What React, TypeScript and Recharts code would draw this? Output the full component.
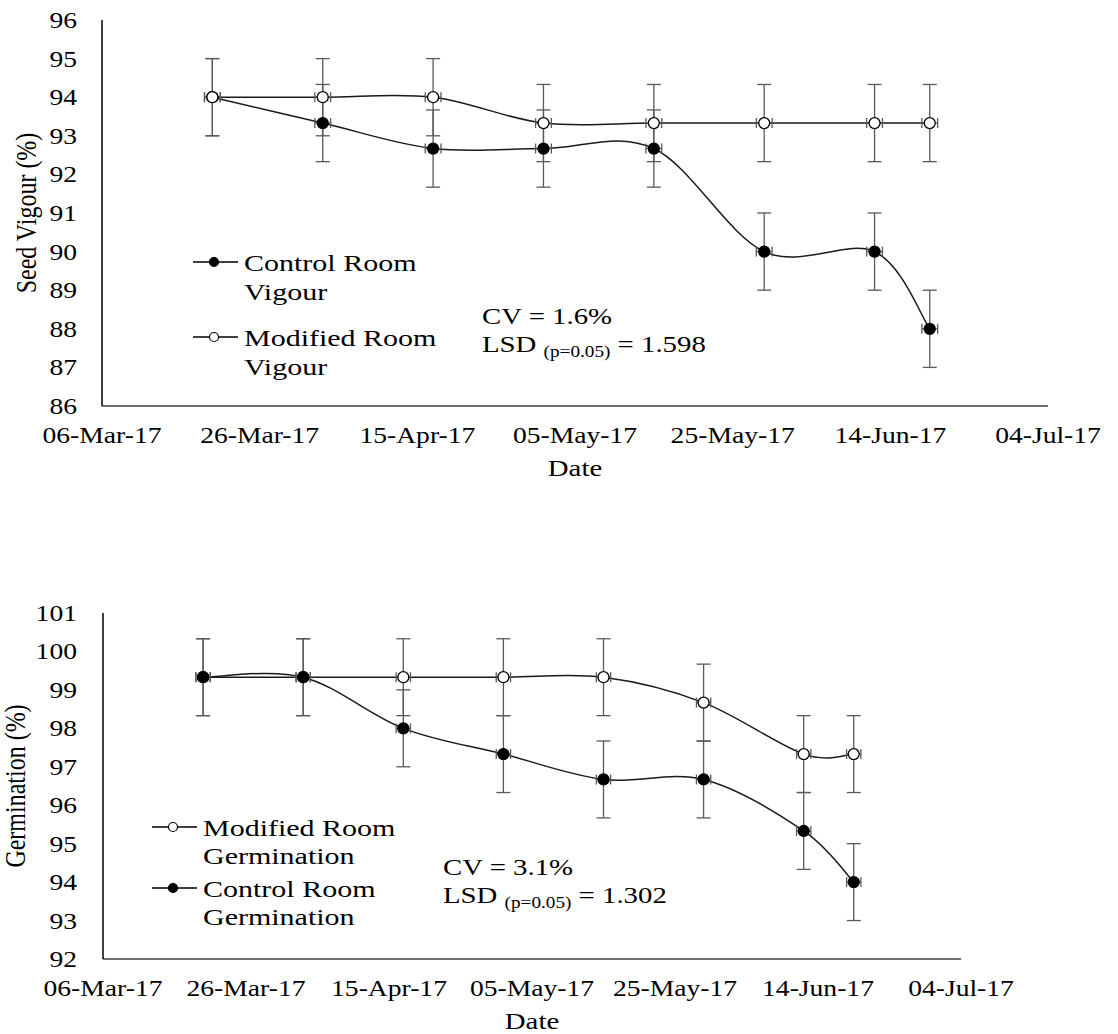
import React from 'react';
import { ComposedChart, Line, Scatter, XAxis, YAxis, ErrorBar, Legend } from 'recharts';

const FONT = '"Liberation Serif", "Times New Roman", Times, serif';
const SX = 1.2;

// sampling dates and values
const sampleDates = ['2017-03-20', '2017-04-03', '2017-04-17', '2017-05-01', '2017-05-15', '2017-05-29', '2017-06-12', '2017-06-19'];
const vigourControl = [94, 93.33, 92.67, 92.67, 92.67, 90, 90, 88];
const vigourModified = [94, 94, 94, 93.33, 93.33, 93.33, 93.33, 93.33];
const vigourControlErr = [1, 1, 1, 1, 1, 1, 1, 1];
const vigourModifiedErr = [1, 1, 1, 1, 1, 1, 1, 1];
const germModified = [99.33, 99.33, 99.33, 99.33, 99.33, 98.67, 97.33, 97.33];
const germControl = [99.33, 99.33, 98, 97.33, 96.67, 96.67, 95.33, 94];
const germModifiedErr = [1, 1, 1, 1, 1, 1, 1, 1];
const germControlErr = [1, 1, 1, 1, 1, 1, 1, 1];
const dateErr = [1, 1, 1, 1, 1, 1, 1, 1]; // days

const xTickDates = ['2017-03-06', '2017-03-26', '2017-04-15', '2017-05-05', '2017-05-25', '2017-06-14', '2017-07-04'];
const xTickLabels = ['06-Mar-17', '26-Mar-17', '15-Apr-17', '05-May-17', '25-May-17', '14-Jun-17', '04-Jul-17'];
const vigourTicks = [86, 87, 88, 89, 90, 91, 92, 93, 94, 95, 96];
const germTicks = [92, 93, 94, 95, 96, 97, 98, 99, 100, 101];

const vigourCV = '1.6%';
const vigourLSD = '1.598';
const germCV = '3.1%';
const germLSD = '1.302';

const dayOf = (s: string) => (Date.parse(s) - Date.parse(xTickDates[0])) / 86400000;
const xTickDays = xTickDates.map(dayOf);

const vigourData = sampleDates.map((d, i) => ({
  t: dayOf(d),
  c: vigourControl[i],
  m: vigourModified[i],
  cErr: vigourControlErr[i],
  mErr: vigourModifiedErr[i],
  tErr: dateErr[i],
}));

const germData = sampleDates.map((d, i) => ({
  t: dayOf(d),
  c: germControl[i],
  m: germModified[i],
  cErr: germControlErr[i],
  mErr: germModifiedErr[i],
  tErr: dateErr[i],
}));

// Excel-like smoothed line (uniform Catmull-Rom as cubic bezier)
function excelSmooth(context: any) {
  let pts: number[][] = [];
  return {
    areaStart() {},
    areaEnd() {},
    lineStart() {
      pts = [];
    },
    point(x: number, y: number) {
      pts.push([+x, +y]);
    },
    lineEnd() {
      const n = pts.length;
      if (!n) return;
      context.moveTo(pts[0][0], pts[0][1]);
      for (let i = 0; i < n - 1; i++) {
        const p0 = pts[Math.max(i - 1, 0)];
        const p1 = pts[i];
        const p2 = pts[i + 1];
        const p3 = pts[Math.min(i + 2, n - 1)];
        context.bezierCurveTo(
          p1[0] + (p2[0] - p0[0]) / 6,
          p1[1] + (p2[1] - p0[1]) / 6,
          p2[0] - (p3[0] - p1[0]) / 6,
          p2[1] - (p3[1] - p1[1]) / 6,
          p2[0],
          p2[1]
        );
      }
    },
  };
}

function YTick(props: any) {
  const { x, y, payload } = props;
  return (
    <text transform={`translate(${x},${y + 8}) scale(${SX},1)`} textAnchor="end" fontFamily={FONT} fontSize={23} fill="#000">
      {payload.value}
    </text>
  );
}

function XTick(props: any) {
  const { x, y, payload } = props;
  const i = xTickDays.indexOf(payload.value);
  return (
    <text transform={`translate(${x},${y}) scale(${SX},1)`} textAnchor="middle" fontFamily={FONT} fontSize={23} fill="#000">
      {i >= 0 ? xTickLabels[i] : ''}
    </text>
  );
}

type Series = { key: string; err: string; name: string; filled: boolean };

interface ChartProps {
  data: any[];
  series: Series[];
  yDomain: [number, number];
  yTicks: number[];
  yLabel: string;
  top: number;
  height: number;
  margin: { top: number; right: number; bottom: number; left: number };
  yAxisWidth: number;
  yTickMargin: number;
  yLabelX: number;
  legendLeft: number;
  legendTop: number;
  legendGap: number;
  lineGap: number;
  cv: string;
  lsd: string;
  statsX: number;
  statsY: number;
}

function SeedChart(p: ChartProps) {
  const renderLegend = (lp: any) => {
    const payload = lp && lp.payload ? lp.payload : [];
    const items = p.series.map((s) => {
      const hit = payload.find((e: any) => e.dataKey === s.key);
      return { ...s, name: hit ? hit.value : s.name };
    });
    return (
      <svg width={340} height={p.legendGap * 2 + 20} style={{ overflow: 'visible', display: 'block' }}>
        {items.map((s, i) => {
          const cy = 22 + i * p.legendGap;
          const cut = s.name.lastIndexOf(' ');
          const l1 = s.name.slice(0, cut);
          const l2 = s.name.slice(cut + 1);
          return (
            <g key={s.key}>
              <line x1={0} x2={45} y1={cy} y2={cy} stroke="#000" strokeWidth={1.5} />
              <circle cx={21} cy={cy} r={4.5} fill={s.filled ? '#000' : '#fff'} stroke="#000" strokeWidth={1.2} />
              <text transform={`translate(51,${cy + 9}) scale(1.25,1)`} fontFamily={FONT} fontSize={24} fill="#000">
                {l1}
              </text>
              <text transform={`translate(51,${cy + 9 + p.lineGap}) scale(1.25,1)`} fontFamily={FONT} fontSize={24} fill="#000">
                {l2}
              </text>
            </g>
          );
        })}
      </svg>
    );
  };

  const marker = (filled: boolean) => (sp: any) => (
    <circle cx={sp.cx} cy={sp.cy} r={5.5} fill={filled ? '#000' : '#fff'} stroke="#000" strokeWidth={1.3} />
  );

  return (
    <div style={{ position: 'absolute', left: 0, top: p.top, width: 1118, height: p.height }}>
      <ComposedChart width={1118} height={p.height} data={p.data} margin={p.margin}>
        <XAxis
          dataKey="t"
          type="number"
          domain={[xTickDays[0], xTickDays[xTickDays.length - 1]]}
          ticks={xTickDays}
          allowDataOverflow
          height={60}
          tickLine={false}
          tickSize={0}
          tickMargin={37}
          tick={<XTick />}
          axisLine={{ stroke: '#404040', strokeWidth: 1.5 }}
          label={{
            content: (lp: any) => {
              const vb = lp.viewBox;
              return (
                <text transform={`translate(${vb.x + vb.width / 2},${vb.y + 70}) scale(${SX},1)`} textAnchor="middle" fontFamily={FONT} fontSize={24} fill="#000">
                  Date
                </text>
              );
            },
          }}
        />
        <YAxis
          type="number"
          domain={p.yDomain}
          ticks={p.yTicks}
          allowDataOverflow
          width={p.yAxisWidth}
          tickLine={false}
          tickSize={0}
          tickMargin={p.yTickMargin}
          tick={<YTick />}
          axisLine={{ stroke: '#000', strokeWidth: 1.5 }}
          label={{
            content: (lp: any) => {
              const vb = lp.viewBox;
              return (
                <text
                  transform={`translate(${p.yLabelX},${vb.y + vb.height / 2}) scale(${SX},1) rotate(-90)`}
                  textAnchor="middle"
                  fontFamily={FONT}
                  fontSize={24}
                  fill="#000"
                >
                  {p.yLabel}
                </text>
              );
            },
          }}
        />
        {p.series.map((s) => (
          <Line
            key={'l' + s.key}
            dataKey={s.key}
            name={s.name}
            type={excelSmooth as any}
            stroke="#1a1a1a"
            strokeWidth={1.5}
            dot={false}
            activeDot={false}
            isAnimationActive={false}
          />
        ))}
        {p.series.map((s) => (
          <Scatter key={'s' + s.key} dataKey={s.key} legendType="none" shape={marker(s.filled)} isAnimationActive={false}>
            <ErrorBar dataKey={s.err} direction="y" width={7} stroke="#5a5a5a" strokeWidth={1.3} />
            <ErrorBar dataKey="tErr" direction="x" width={5} stroke="#5a5a5a" strokeWidth={1.3} />
          </Scatter>
        ))}
        <Legend
          layout="horizontal"
          verticalAlign="middle"
          align="center"
          content={renderLegend}
          wrapperStyle={{ left: p.legendLeft, top: p.legendTop, width: 340, height: p.legendGap * 2 + 20 }}
        />
      </ComposedChart>
      <svg width={1118} height={p.height} style={{ position: 'absolute', left: 0, top: 0, pointerEvents: 'none' }}>
        <text transform={`translate(${p.statsX},${p.statsY}) scale(${SX},1)`} fontFamily={FONT} fontSize={24} fill="#000">
          CV = {p.cv}
        </text>
        <text transform={`translate(${p.statsX},${p.statsY + 28}) scale(${SX},1)`} fontFamily={FONT} fontSize={24} fill="#000">
          {'LSD '}
          <tspan fontSize={16} dy={5}>
            (p=0.05)
          </tspan>
          <tspan dy={-5}>{' = ' + p.lsd}</tspan>
        </text>
      </svg>
    </div>
  );
}

export default function App() {
  return (
    <div style={{ position: 'absolute', left: 0, top: 0, width: 1118, height: 1034, background: '#fff', overflow: 'hidden' }}>
      <SeedChart
        data={vigourData}
        series={[
          { key: 'c', err: 'cErr', name: 'Control Room Vigour', filled: true },
          { key: 'm', err: 'mErr', name: 'Modified Room Vigour', filled: false },
        ]}
        yDomain={[86, 96]}
        yTicks={vigourTicks}
        yLabel="Seed Vigour (%)"
        top={0}
        height={500}
        margin={{ top: 20, right: 70, bottom: 34, left: 0 }}
        yAxisWidth={102}
        yTickMargin={25}
        yLabelX={36}
        legendLeft={193}
        legendTop={240}
        legendGap={75}
        lineGap={29}
        cv={vigourCV}
        lsd={vigourLSD}
        statsX={482}
        statsY={324}
      />
      <SeedChart
        data={germData}
        series={[
          { key: 'm', err: 'mErr', name: 'Modified Room Germination', filled: false },
          { key: 'c', err: 'cErr', name: 'Control Room Germination', filled: true },
        ]}
        yDomain={[92, 101]}
        yTicks={germTicks}
        yLabel="Germination (%)"
        top={540}
        height={494}
        margin={{ top: 73, right: 157, bottom: 15, left: 0 }}
        yAxisWidth={103}
        yTickMargin={26}
        yLabelX={25}
        legendLeft={152}
        legendTop={265}
        legendGap={61}
        lineGap={28}
        cv={germCV}
        lsd={germLSD}
        statsX={443}
        statsY={335}
      />
    </div>
  );
}
